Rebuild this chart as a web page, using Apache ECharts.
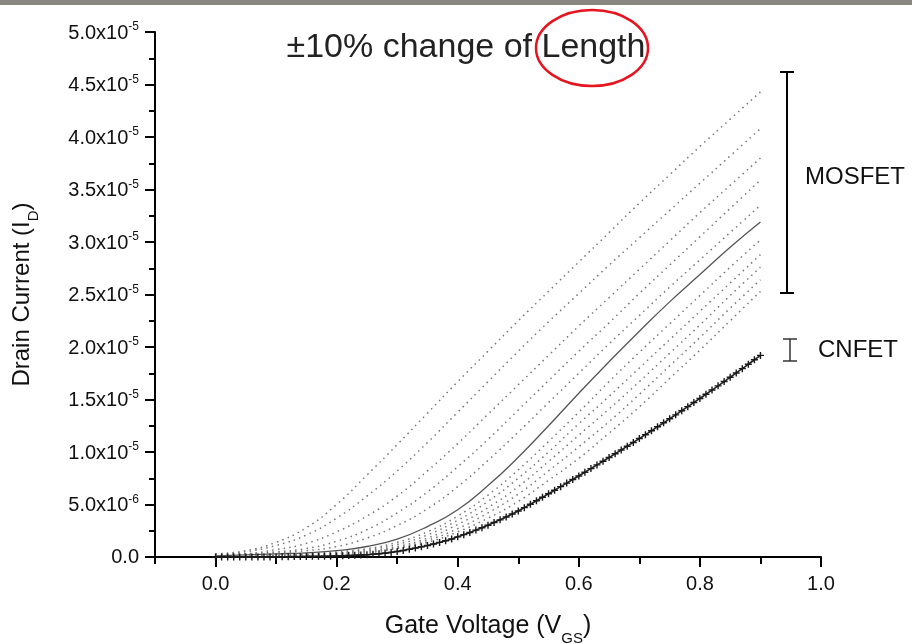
<!DOCTYPE html>
<html><head><meta charset="utf-8">
<script src="https://cdn.jsdelivr.net/npm/echarts@6/dist/echarts.min.js"></script>
<style>html,body{margin:0;padding:0;background:#fff}#c{width:912px;height:644px}</style>
</head><body><div id="c"></div>
<script>
// Gate voltage grid for MOSFET curves (V)
const vgs = [0,0.05,0.1,0.15,0.2,0.25,0.3,0.35,0.4,0.45,0.5,0.55,0.6,0.65,0.7,0.75,0.8,0.85,0.9];
// MOSFET drain current, units of 1e-5 A, Length -10% .. +10%
const mosLm10 = [0.03,0.06,0.14,0.28,0.50,0.78,1.07,1.37,1.67,1.96,2.25,2.53,2.81,3.09,3.37,3.64,3.91,4.17,4.43];
const mosLm8  = [0.02,0.05,0.11,0.21,0.37,0.58,0.82,1.09,1.38,1.67,1.96,2.24,2.51,2.78,3.04,3.30,3.56,3.82,4.08];
const mosLm6  = [0.02,0.03,0.07,0.13,0.24,0.39,0.58,0.82,1.08,1.36,1.64,1.92,2.20,2.47,2.74,3.01,3.28,3.54,3.80];
const mosLm4  = [0.02,0.03,0.05,0.08,0.15,0.26,0.42,0.62,0.86,1.12,1.40,1.68,1.96,2.23,2.51,2.78,3.05,3.32,3.59];
const mosLm2  = [0.01,0.02,0.04,0.06,0.10,0.18,0.30,0.46,0.67,0.92,1.19,1.47,1.75,2.03,2.30,2.57,2.83,3.09,3.35];
const mosL0   = [0.01,0.02,0.03,0.04,0.06,0.10,0.17,0.29,0.45,0.68,0.95,1.25,1.56,1.86,2.15,2.43,2.69,2.95,3.19];
const mosLp2  = [0.01,0.01,0.02,0.03,0.05,0.08,0.14,0.24,0.39,0.59,0.83,1.10,1.38,1.67,1.95,2.22,2.49,2.76,3.02];
const mosLp4  = [0.00,0.01,0.01,0.02,0.04,0.07,0.12,0.21,0.35,0.53,0.75,1.00,1.27,1.53,1.80,2.07,2.34,2.61,2.88];
const mosLp6  = [0.00,0.01,0.01,0.02,0.03,0.06,0.10,0.18,0.31,0.47,0.67,0.91,1.16,1.41,1.67,1.94,2.21,2.49,2.76];
const mosLp8  = [0.00,0.01,0.01,0.02,0.03,0.05,0.09,0.16,0.27,0.42,0.60,0.82,1.05,1.29,1.55,1.82,2.09,2.37,2.64];
const mosLp10 = [0.00,0.00,0.01,0.01,0.02,0.04,0.08,0.14,0.24,0.37,0.53,0.73,0.94,1.18,1.43,1.70,1.97,2.25,2.53];
const mosNames = ['L -10%','L -8%','L -6%','L -4%','L -2%','L nominal','L +2%','L +4%','L +6%','L +8%','L +10%'];
const mosSets = [mosLm10,mosLm8,mosLm6,mosLm4,mosLm2,mosL0,mosLp2,mosLp4,mosLp6,mosLp8,mosLp10];

// CNFET (all lengths nearly coincide)
const cnfetVgs = [0.00,0.01,0.02,0.03,0.04,0.05,0.06,0.07,0.08,0.09,0.10,
 0.11,0.12,0.13,0.14,0.15,0.16,0.17,0.18,0.19,0.20,
 0.21,0.22,0.23,0.24,0.25,0.26,0.27,0.28,0.29,0.30,
 0.31,0.32,0.33,0.34,0.35,0.36,0.37,0.38,0.39,0.40,
 0.41,0.42,0.43,0.44,0.45,0.46,0.47,0.48,0.49,0.50,
 0.51,0.52,0.53,0.54,0.55,0.56,0.57,0.58,0.59,0.60,
 0.61,0.62,0.63,0.64,0.65,0.66,0.67,0.68,0.69,0.70,
 0.71,0.72,0.73,0.74,0.75,0.76,0.77,0.78,0.79,0.80,
 0.81,0.82,0.83,0.84,0.85,0.86,0.87,0.88,0.89,0.90];
const cnfetId = [0,0,0,0,0,0,0,0,0,0,0,
 0.003,0.003,0.004,0.004,0.005,0.006,0.006,0.007,0.008,0.010,
 0.012,0.014,0.016,0.019,0.022,0.026,0.031,0.037,0.044,0.052,
 0.062,0.073,0.085,0.097,0.110,0.124,0.139,0.155,0.172,0.192,
 0.213,0.234,0.256,0.279,0.303,0.328,0.354,0.381,0.409,0.438,
 0.470,0.503,0.536,0.569,0.602,0.636,0.670,0.704,0.738,0.772,
 0.807,0.842,0.877,0.912,0.947,0.983,1.019,1.055,1.091,1.128,
 1.165,1.202,1.240,1.278,1.316,1.354,1.393,1.432,1.471,1.510,
 1.550,1.590,1.630,1.671,1.712,1.753,1.794,1.836,1.878,1.920];

const xMajorTicks = [0,0.2,0.4,0.6,0.8,1.0];
const xMinorTicks = [-0.1,0.1,0.3,0.5,0.7,0.9];
const yTickText = {
  '0':'{b|0.0}', '0.5':'{b|5.0x10}{s|-6}', '1':'{b|1.0x10}{s|-5}', '1.5':'{b|1.5x10}{s|-5}',
  '2':'{b|2.0x10}{s|-5}', '2.5':'{b|2.5x10}{s|-5}', '3':'{b|3.0x10}{s|-5}', '3.5':'{b|3.5x10}{s|-5}',
  '4':'{b|4.0x10}{s|-5}', '4.5':'{b|4.5x10}{s|-5}', '5':'{b|5.0x10}{s|-5}'
};

const FONT = 'Liberation Sans, Arial, sans-serif';
const chart = echarts.init(document.getElementById('c'), null, {renderer:'canvas'});

const series = mosSets.map((d,i) => ({
  name: mosNames[i], type:'line', smooth:true, showSymbol:false, symbol:'none',
  xAxisIndex:0, yAxisIndex:0,
  data: vgs.map((x,j) => [x, d[j]]),
  lineStyle: i === 5 ? {color:'#555', width:1.3, type:'solid'} : {color:'#777', width:1.5, type:[1.5,4.2]},
  z: 3
}));
series.push({
  name:'CNFET', type:'line', smooth:true, xAxisIndex:0, yAxisIndex:0,
  data: cnfetVgs.map((x,j) => [x, cnfetId[j]]),
  symbol:'path://M2,0H3V2H5V3H3V5H2V3H0V2H2Z', symbolSize:7, showSymbol:true,
  itemStyle:{color:'#1a1a1a'}, lineStyle:{color:'#222', width:1.6}, z:4
});

const axisLineStyle = {color:'#000', width:2};
chart.setOption({
  animation:false,
  backgroundColor:'#fff',
  grid:{left:155, right:91, top:32, bottom:87, containLabel:false, outerBoundsMode:'none'},
  xAxis:[{
    type:'value', min:-0.1, max:1.0, interval:0.1,
    axisLine:{show:true, onZero:false, lineStyle:axisLineStyle},
    axisTick:{show:true, customValues:xMajorTicks, length:10, inside:false, lineStyle:{color:'#000', width:2}},
    axisLabel:{show:true, customValues:xMajorTicks, formatter:v => v.toFixed(1), color:'#111', fontFamily:FONT, fontSize:20, margin:17},
    splitLine:{show:false},
    name:'{a|Gate Voltage (V}{s|GS}{a|)}', nameLocation:'middle', nameGap:57,
    nameTextStyle:{rich:{a:{fontFamily:FONT, fontSize:25, color:'#111', verticalAlign:'bottom'}, s:{fontFamily:FONT, fontSize:15, color:'#111', verticalAlign:'bottom', padding:[0,0,-7,0]}}}
  },{
    type:'value', min:-0.1, max:1.0, interval:0.1, position:'bottom', gridIndex:0,
    axisLine:{show:false}, axisLabel:{show:false}, splitLine:{show:false},
    axisTick:{show:true, customValues:xMinorTicks, length:7, lineStyle:{color:'#000', width:2}}
  }],
  yAxis:[{
    type:'value', min:0, max:5, interval:0.5,
    axisLine:{show:true, onZero:false, lineStyle:axisLineStyle},
    axisTick:{show:true, length:10, lineStyle:{color:'#000', width:2}},
    minorTick:{show:true, splitNumber:2, length:6, lineStyle:{color:'#000', width:2}},
    splitLine:{show:false}, minorSplitLine:{show:false},
    axisLabel:{margin:16, formatter:v => yTickText[String(v)] || '',
      rich:{b:{fontFamily:FONT, fontSize:20, color:'#111', verticalAlign:'bottom'}, s:{fontFamily:FONT, fontSize:12, color:'#111', verticalAlign:'bottom', padding:[0,0,10,0]}}},
    name:'{a|Drain Current (I}{s|D}{a|)}', nameLocation:'middle', nameGap:121, nameRotate:90,
    nameTextStyle:{rich:{a:{fontFamily:FONT, fontSize:24, color:'#111', verticalAlign:'bottom'}, s:{fontFamily:FONT, fontSize:15, color:'#111', verticalAlign:'bottom', padding:[0,0,-7,0]}}}
  }],
  series: series,
  graphic:[
    {type:'rect', shape:{x:0, y:0, width:912, height:5}, style:{fill:'#888880'}, silent:true},
    {type:'text', x:466, y:48, style:{text:'±10% change of Length', font:'34px ' + FONT, fill:'#222', textAlign:'center', textVerticalAlign:'middle'}},
    {type:'ellipse', shape:{cx:592, cy:48, rx:56, ry:38}, style:{fill:'none', stroke:'#e6141e', lineWidth:2.5}},
    // MOSFET range bracket
    {type:'line', shape:{x1:787, y1:72, x2:787, y2:293}, style:{stroke:'#000', lineWidth:2}},
    {type:'line', shape:{x1:780, y1:72, x2:794, y2:72}, style:{stroke:'#000', lineWidth:2}},
    {type:'line', shape:{x1:780, y1:293, x2:794, y2:293}, style:{stroke:'#000', lineWidth:2}},
    {type:'text', x:805, y:177, style:{text:'MOSFET', font:'24px ' + FONT, fill:'#111', textAlign:'left', textVerticalAlign:'middle'}},
    // CNFET range bracket
    {type:'line', shape:{x1:790, y1:339, x2:790, y2:361}, style:{stroke:'#333', lineWidth:1.5}},
    {type:'line', shape:{x1:783, y1:339, x2:797, y2:339}, style:{stroke:'#333', lineWidth:1.5}},
    {type:'line', shape:{x1:783, y1:361, x2:797, y2:361}, style:{stroke:'#333', lineWidth:1.5}},
    {type:'text', x:818, y:350, style:{text:'CNFET', font:'24px ' + FONT, fill:'#111', textAlign:'left', textVerticalAlign:'middle'}}
  ]
});
</script></body></html>
